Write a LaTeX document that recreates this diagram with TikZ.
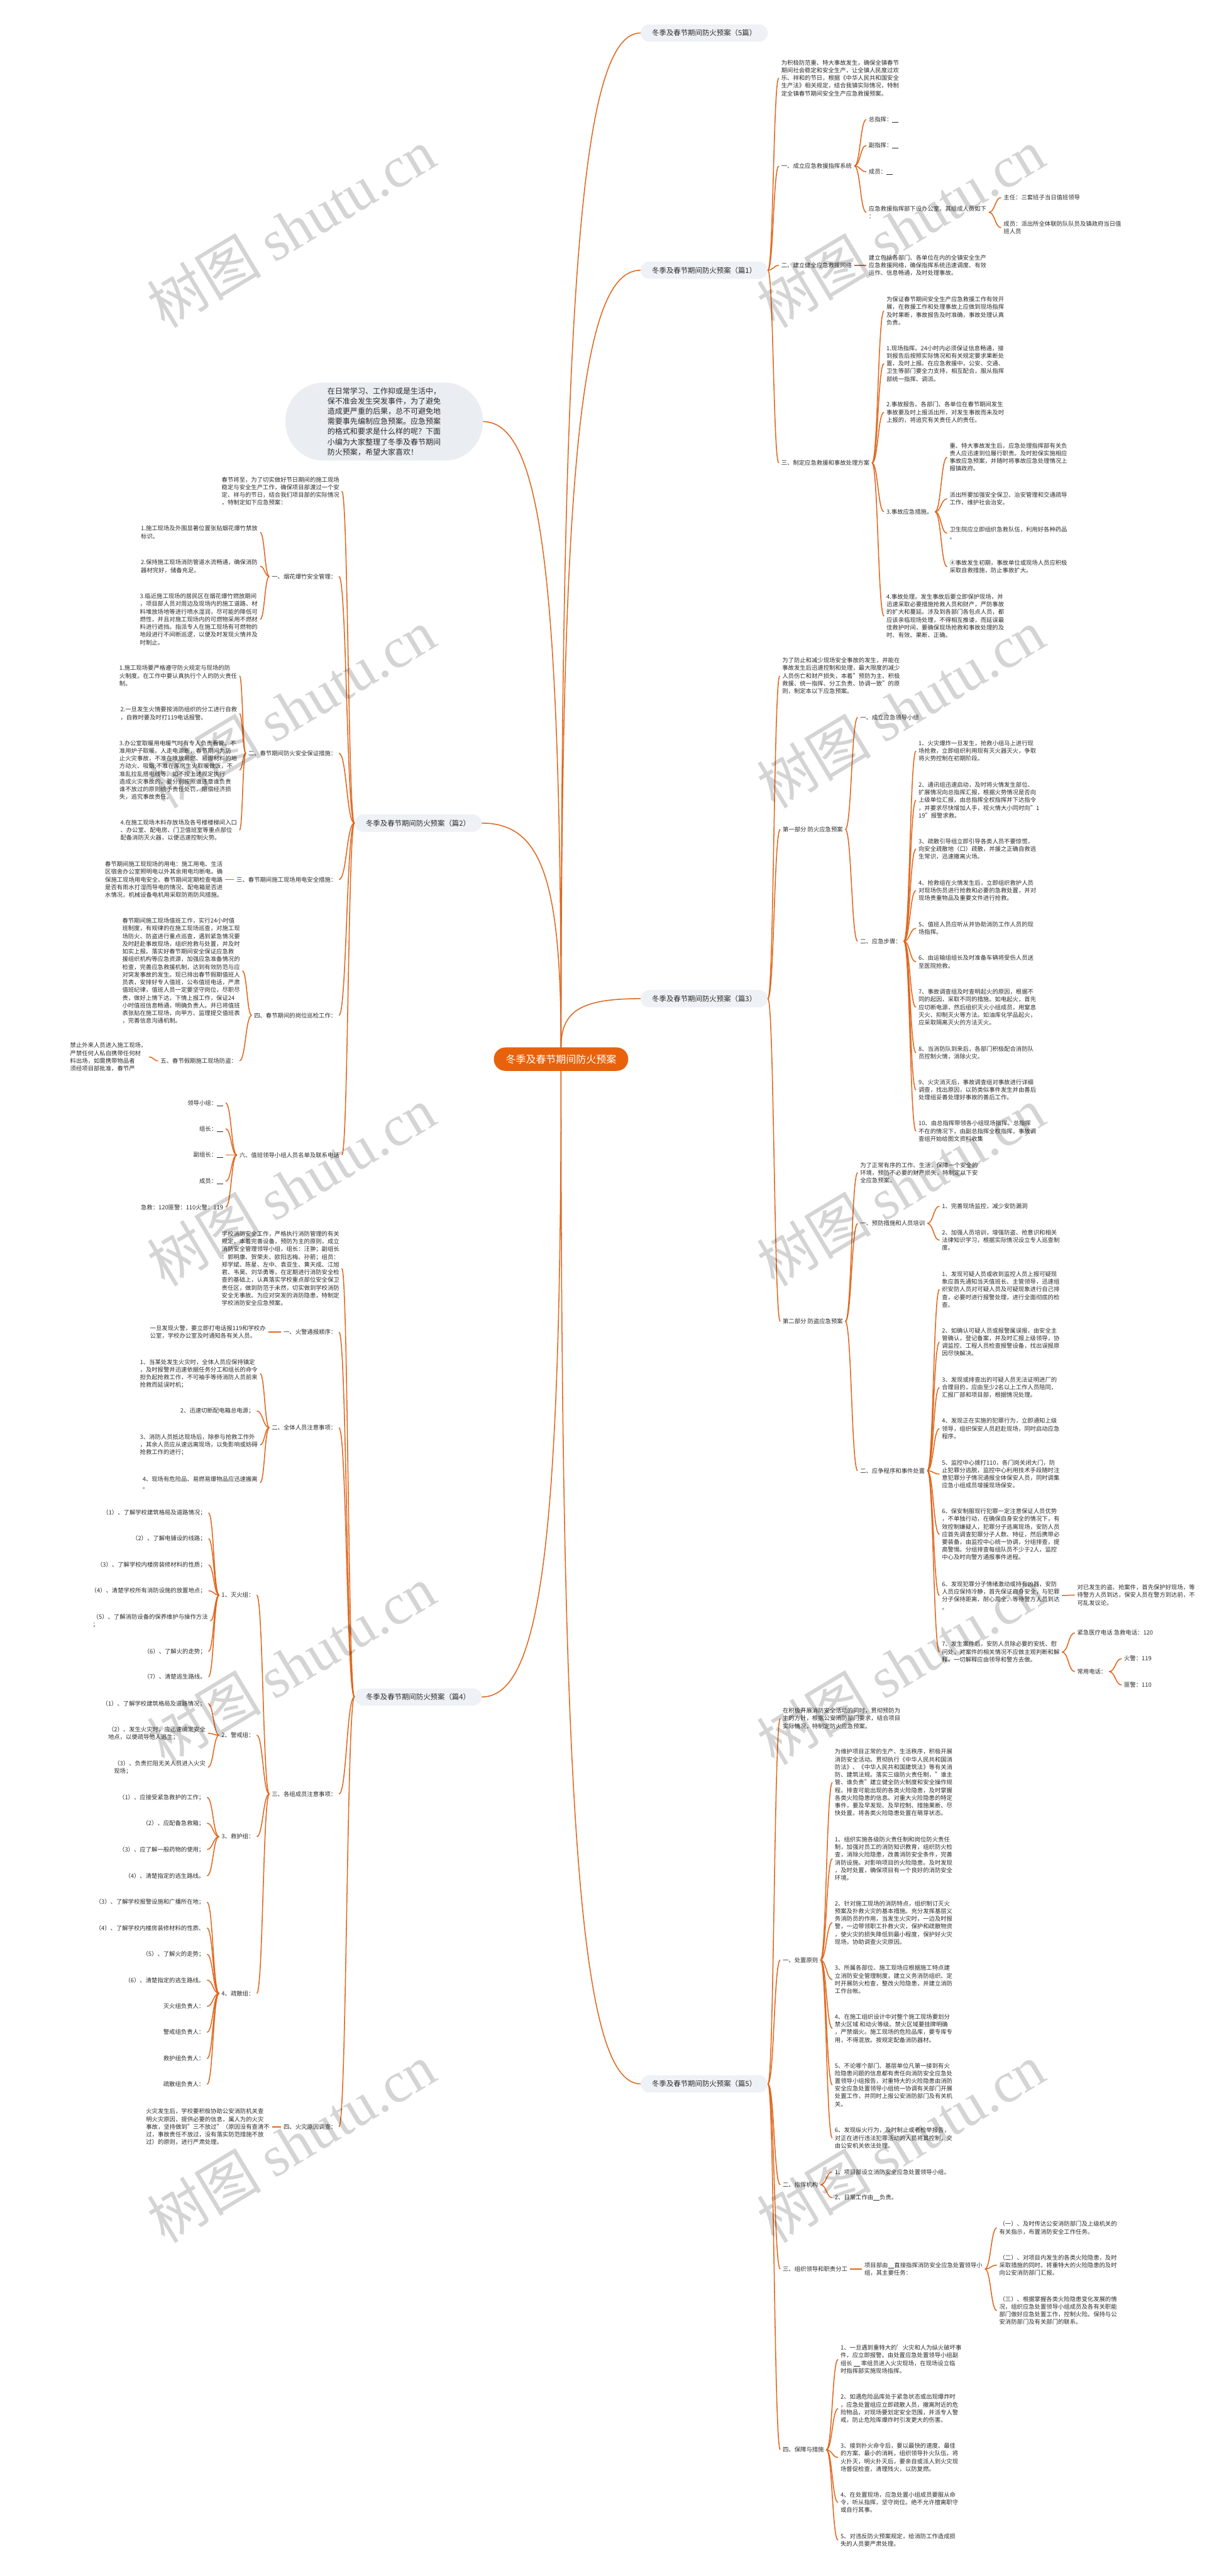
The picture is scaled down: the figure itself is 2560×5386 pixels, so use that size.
\documentclass[tikz,border=0pt]{standalone}
\usepackage{fontspec}
\setmainfont{Noto Sans CJK SC}
\newfontfamily\wmserif{Liberation Serif}
\usetikzlibrary{calc}
\definecolor{lc}{HTML}{E0661C}
\definecolor{oc}{HTML}{E8620C}
\definecolor{tf}{HTML}{EEF1F5}
\definecolor{bf}{HTML}{EAEEF2}
\definecolor{tc}{HTML}{2B2B2B}
\newcommand\ftx{\fontsize{12.3}{16.1}\selectfont}
\newcommand\ftp{\fontsize{15}{18}\selectfont}
\newcommand\frt{\fontsize{21}{25}\selectfont}
\newcommand\fbb{\fontsize{15.8}{21.2}\selectfont}
\newcommand\blk{\rule[-1.5pt]{13pt}{0.9pt}}
\newcommand\conR[2]{\draw[ln] let \p1=(#1.east), \p2=(#2.west) in (\p1) .. controls ({(\x1+\x2)/2},\y1) and ({(\x1+\x2)/2},\y2) .. (\p2);}
\newcommand\conL[2]{\draw[ln] let \p1=(#1.west), \p2=(#2.east) in (\p1) .. controls ({(\x1+\x2)/2},\y1) and ({(\x1+\x2)/2},\y2) .. (\p2);}
\newcommand\conT[2]{\draw[ln] let \p1=(#1), \p2=(#2) in (\p1) .. controls (\x1,{0.75*(\y2)+0.25*(\y1)}) and ({0.75*(\x1)+0.25*(\x2)},\y2) .. (\p2);}
\tikzset{
 ln/.style={draw=lc, line width=2pt},
 tx/.style={font=\ftx, align=left, inner xsep=5pt, inner ysep=1pt, text=tc},
 rt/.style={tx, anchor=west},
 lt/.style={tx, anchor=east},
 topic/.style={fill=tf, rounded corners=18pt, minimum height=36pt, minimum width=266pt, inner sep=0pt, font=\ftp, text=tc},
 rootn/.style={fill=oc, rounded corners=24pt, minimum height=49pt, minimum width=281pt, inner sep=0pt, font=\frt, text=white},
 bubble/.style={fill=bf, rounded corners=80pt, minimum width=413pt, minimum height=163pt, inner sep=0pt, font=\fbb, align=left, text=tc},
 wm/.style={rotate=31, anchor=base west, inner sep=0pt, text=black, opacity=0.17, font=\fontsize{120}{120}\selectfont}
}
\begin{document}
\begin{tikzpicture}[x=1pt,y=-1pt]
\useasboundingbox (0,0) rectangle (2560,5386);
\fill[white] (0,0) rectangle (2560,5386);

% ---------- main nodes ----------
\node[rootn] (root) at (1173.5,2214.5) {冬季及春节期间防火预案};
\node[bubble] (bub) at (803.5,881.5) {在日常学习、工作抑或是生活中，\\保不准会发生突发事件，为了避免\\造成更严重的后果，总不可避免地\\需要事先编制应急预案。应急预案\\的格式和要求是什么样的呢？下面\\小编为大家整理了冬季及春节期间\\防火预案，希望大家喜欢！};
\node[topic] (t0) at (1473,69) {冬季及春节期间防火预案（5篇）};
\node[topic] (t1) at (1473,565) {冬季及春节期间防火预案（篇1）};
\node[topic] (t2) at (874.5,1721) {冬季及春节期间防火预案（篇2）};
\node[topic] (t3) at (1473,2088) {冬季及春节期间防火预案（篇3）};
\node[topic] (t4) at (874.5,3548) {冬季及春节期间防火预案（篇4）};
\node[topic] (t5) at (1473,4357) {冬季及春节期间防火预案（篇5）};

\conT{root.north}{t0.west}
\conT{root.north}{t1.west}
\conT{root.north}{t3.west}
\conT{root.north}{bub.east}
\conT{root.north}{t2.east}
\conT{root.south}{t4.east}
\conT{root.south}{t5.west}

% ---------- 篇1 ----------
\node[rt] (a0) at (1629,163) {为积极防范重、特大事故发生，确保全镇春节\\期间社会稳定和安全生产，让全镇人民度过欢\\乐、祥和的节日，根据《中华人民共和国安全\\生产法》相关规定，结合我镇实际情况，特制\\定全镇春节期间安全生产应急救援预案。};
\node[rt] (a1) at (1629,347) {一、成立应急救援指挥系统};
\node[rt] (a11) at (1812,250) {总指挥：\blk};
\node[rt] (a12) at (1812,304) {副指挥：\blk};
\node[rt] (a13) at (1812,359) {成员：\blk};
\node[rt] (a14) at (1812,444) {应急救援指挥部下设办公室，其组成人员如下\\：};
\node[rt] (a141) at (2094,413) {主任：三套班子当日值班领导};
\node[rt] (a142) at (2094,476) {成员：派出所全体联防队队员及镇政府当日值\\班人员};
\node[rt] (a2) at (1629,555) {二、建立健全应急救援网络};
\node[rt] (a21) at (1812,555) {建立包括各部门、各单位在内的全镇安全生产\\应急救援网络，确保指挥系统迅速调度、有效\\运作、信息畅通，及时处理事故。};
\node[rt] (a3) at (1629,968) {三、制定应急救援和事故处理方案};
\node[rt] (a31) at (1849,650) {为保证春节期间安全生产应急救援工作有效开\\展，在救援工作和处理事故上应做到现场指挥\\及时果断，事故报告及时准确，事故处理认真\\负责。};
\node[rt] (a32) at (1849,760) {1.现场指挥。24小时内必须保证信息畅通，接\\到报告后按照实际情况和有关规定要求果断处\\置，及时上报。在应急救援中，公安、交通、\\卫生等部门要全力支持，相互配合，服从指挥\\部统一指挥、调派。};
\node[rt] (a33) at (1849,862) {2.事故报告。各部门、各单位在春节期间发生\\事故要及时上报派出所，对发生事故而未及时\\上报的，将追究有关责任人的责任。};
\node[rt] (a34) at (1849,1070) {3.事故应急措施。};
\node[rt] (a341) at (1981,956) {重、特大事故发生后，应急处理指挥部有关负\\责人应迅速到位履行职责。及时担保实施相应\\事故应急预案，并随时将事故应急处理情况上\\报镇政府。};
\node[rt] (a342) at (1981,1043) {派出所要加强安全保卫、治安管理和交通疏导\\工作，维护社会治安。};
\node[rt] (a343) at (1981,1115) {卫生院应立即组织急救队伍，利用好各种药品\\。};
\node[rt] (a344) at (1981,1185) {④事故发生初期，事故单位或现场人员应积极\\采取自救措施，防止事故扩大。};
\node[rt] (a35) at (1849,1288) {4.事故处理。发生事故后要立即保护现场，并\\迅速采取必要措施抢救人员和财产，严防事故\\的扩大和蔓延。涉及到各部门各包点人员，都\\应该亲临现场处理，不得相互推诿，而延误最\\佳救护时间，要确保现场抢救和事故处理的及\\时、有效、果断、正确。};
\foreach \c in {a0,a1,a2,a3} {\conR{t1}{\c}}
\foreach \c in {a11,a12,a13,a14} {\conR{a1}{\c}}
\foreach \c in {a141,a142} {\conR{a14}{\c}}
\conR{a2}{a21}
\foreach \c in {a31,a32,a33,a34,a35} {\conR{a3}{\c}}
\foreach \c in {a341,a342,a343,a344} {\conR{a34}{\c}}

% ---------- 篇3 ----------
\node[rt] (b0) at (1631,1413) {为了防止和减少现场安全事故的发生，并能在\\事故发生后迅速控制和处理，最大限度的减少\\人员伤亡和财产损失，本着"预防为主、积极\\救援、统一指挥、分工负责、协调一致"的原\\则，制定本以下应急预案。};
\node[rt] (b1) at (1632,1734) {第一部分 防火应急预案};
\node[rt] (b11) at (1794,1500) {一、成立应急领导小组};
\node[rt] (b12) at (1794,1968) {二、应急步骤：};
\node[rt] (s1) at (1916,1570) {1、火灾爆炸一旦发生，抢救小组马上进行现\\场抢救，立即组织利用现有灭火器灭火，争取\\将火势控制在初期阶段。};
\node[rt] (s2) at (1916,1673) {2、通讯组迅速启动，及时将火情发生部位、\\扩展情况向总指挥汇报，根据火势情况是否向\\上级单位汇报，由总指挥全权指挥并下达指令\\，并要求尽快增加人手，视火情大小同时向"1\\19"报警求救。};
\node[rt] (s3) at (1916,1775) {3、疏散引导组立即引导各类人员不要惊慌，\\向安全疏散地（口）疏散，并援之正确自救逃\\生常识，迅速撤离火场。};
\node[rt] (s4) at (1916,1862) {4、抢救组在火情发生后，立即组织救护人员\\对现场伤员进行抢救和必要的急救处置，并对\\现场贵重物品及重要文件进行抢救。};
\node[rt] (s5) at (1916,1941) {5、值班人员应听从并协助消防工作人员的现\\场指挥。};
\node[rt] (s6) at (1916,2011) {6、由运输组组长及时准备车辆将受伤人员送\\至医院抢救。};
\node[rt] (s7) at (1916,2106) {7、事故调查组及时查明起火的原因，根据不\\同的起因，采取不同的措施。如电起火，首先\\应切断电源，然后组织灭火小组成员，用窒息\\灭火、抑制灭火等方法。如油库化学品起火，\\应采取隔离灭火的方法灭火。};
\node[rt] (s8) at (1916,2201) {8、当消防队到来后，各部门积极配合消防队\\员控制火情，消除火灾。};
\node[rt] (s9) at (1916,2279) {9、火灾消灭后，事故调查组对事故进行详细\\调查，找出原因，以防类似事件发生并由善后\\处理组妥善处理好事故的善后工作。};
\node[rt] (s10) at (1916,2365) {10、由总指挥带领各小组现场指挥。总指挥\\不在的情况下，由副总指挥全权指挥，事故调\\查组开始给图文资料收集};
\node[rt] (b2) at (1632,2763) {第二部分 防盗应急预案};
\node[rt] (b21) at (1794,2452) {为了正常有序的工作、生活，保障一个安全的\\环境，预防不必要的财产损失，特制定以下安\\全应急预案。};
\node[rt] (b22) at (1794,2558) {一、预防措施和人员培训};
\node[rt] (b221) at (1965,2522) {1、完善现场监控，减少安防漏洞};
\node[rt] (b222) at (1965,2593) {2、加强人员培训，增强防盗、抢意识和相关\\法律知识学习，根据实际情况设立专人巡查制\\度。};
\node[rt] (b23) at (1794,3075) {二、应争程序和事件处置};
\node[rt] (p1) at (1965,2696) {1、发现可疑人员或收到监控人员上报可疑现\\象应首先通知当天值班长、主管领导，迅速组\\织安防人员对可疑人员及可疑现象进行自己排\\查，必要时进行报警处理，进行全面彻底的检\\查。};
\node[rt] (p2) at (1965,2806) {2、如确认可疑人员或报警属误报，由安全主\\管确认，登记备案，并及时汇报上级领导，协\\调监控、工程人员检查报警设备，找出误报原\\因尽快解决。};
\node[rt] (p3) at (1965,2901) {3、发现或排查出的可疑人员无法证明进厂的\\合理目的，应由至少2名以上工作人员陪同，\\汇报厂部和项目部，根据情况处理。};
\node[rt] (p4) at (1965,2987) {4、发现正在实施的犯罪行为，立即通知上级\\领导，组织保安人员赶赴现场，同时启动应急\\程序。};
\node[rt] (p5) at (1965,3082) {5、监控中心拨打110，各门岗关闭大门，防\\止犯罪分逃脱，监控中心利用技术手段随时注\\意犯罪分子情况通报全体保安人员，同时调集\\应急小组成员增援现场保安。};
\node[rt] (p6) at (1965,3208) {6、保安制服现行犯罪一定注意保证人员优势\\，不单独行动，在确保自身安全的情况下，有\\效控制嫌疑人，犯罪分子逃离现场，安防人员\\应首先调查犯罪分子人数、特征，然后携带必\\要装备，由监控中心统一协调，分组排查，提\\高警惕。分组排查每组队员不少于2人，监控\\中心及时向警方通报事件进程。};
\node[rt] (p7) at (1965,3336) {6、发现犯罪分子情绪激动或持有凶器，安防\\人员应保持冷静，首先保证自身安全，与犯罪\\分子保持距离，耐心周全，等待警方人员到达\\。};
\node[rt] (p71) at (2248,3335) {对已发生的盗、抢案件，首先保护好现场，等\\待警方人员到达，保安人员在警方到达前，不\\可乱发议论。};
\node[rt] (p8) at (1965,3454) {7、发生案件后，安防人员除必要的安抚、慰\\问处，对案件的相关情况不应做主观判断和解\\释，一切解释应由领导和警方去做。};
\node[rt] (p81) at (2248,3414) {紧急医疗电话 急救电话：120};
\node[rt] (p82) at (2248,3495) {常用电话：};
\node[rt] (p821) at (2346,3468) {火警：119};
\node[rt] (p822) at (2346,3523) {匪警：110};
\foreach \c in {b0,b1,b2} {\conR{t3}{\c}}
\foreach \c in {b11,b12} {\conR{b1}{\c}}
\foreach \c in {s1,s2,s3,s4,s5,s6,s7,s8,s9,s10} {\conR{b12}{\c}}
\foreach \c in {b21,b22,b23} {\conR{b2}{\c}}
\foreach \c in {b221,b222} {\conR{b22}{\c}}
\foreach \c in {p1,p2,p3,p4,p5,p6,p7,p8} {\conR{b23}{\c}}
\conR{p7}{p71}
\foreach \c in {p81,p82} {\conR{p8}{\c}}
\foreach \c in {p821,p822} {\conR{p82}{\c}}

% ---------- 篇5 ----------
\node[rt] (c0) at (1632,3593) {在积极开展消防安全活动的同时，贯彻预防为\\主的方针，根据公安消防部门要求，结合项目\\实际情况，特制定防火应急预案。};
\node[rt] (c1) at (1632,4098) {一、处置原则};
\node[rt] (c11) at (1741,3727) {为维护项目正常的生产、生活秩序，积极开展\\消防安全活动。贯彻执行《中华人民共和国消\\防法》、《中华人民共和国建筑法》等有关消\\防、建筑法规。落实三级防火责任制，"谁主\\管、谁负责"建立健全防火制度和安全操作规\\程。排查可能出现的各类火险隐患，及时掌握\\各类火险隐患的信息。对重大火险隐患的特定\\事件，要及早发现、及早控制、措施果断、尽\\快处置。将各类火险隐患处置在萌芽状态。};
\node[rt] (c12) at (1741,3886) {1、组织实施各级防火责任制和岗位防火责任\\制，加强对员工的消防知识教育，组织防火检\\查，消除火险隐患，改善消防安全条件，完善\\消防设施。对影响项目的火险隐患。及时发现\\，及时处置，确保项目有一个良好的消防安全\\环境。};
\node[rt] (c13) at (1741,4020) {2、针对施工现场的消防特点，组织制订灭火\\预案及扑救火灾的基本措施。充分发挥基层义\\务消防员的作用，当发生火灾时，一边及时报\\警，一边带领职工扑救火灾，保护和疏散物资\\，使火灾的损失降低到最小程度，保护好火灾\\现场，协助调查火灾原因。};
\node[rt] (c14) at (1741,4139) {3、所属各部位、施工现场应根据施工特点建\\立消防安全管理制度，建立义务消防组织、定\\时开展防火检查，整改火险隐患，并建立消防\\工作台帐。};
\node[rt] (c15) at (1741,4241) {4、在施工组织设计中对整个施工现场要划分\\禁火区域 和动火等级。禁火区域要挂牌明确\\，严禁烟火。施工现场的危险品库，要专库专\\用，不得混放。按规定配备消防器材。};
\node[rt] (c16) at (1741,4359) {5、不论哪个部门、基层单位凡第一接到有火\\险隐患问题的信息都有责任向消防安全应急处\\置领导小组报告，对重特大的火险隐患由消防\\安全应急处置领导小组统一协调有关部门开展\\处置工作，并同时上报公安消防部门及有关机\\关。};
\node[rt] (c17) at (1741,4470) {6、发现纵火行为，及时制止或者检举报告，\\对正在进行违法犯罪活动的人员将其控制，交\\由公安机关依法处理。};
\node[rt] (c2) at (1632,4568) {二、指挥机构};
\node[rt] (c21) at (1741,4541) {1、项目部设立消防安全应急处置领导小组。};
\node[rt] (c22) at (1741,4595) {2、日常工作由\blk 负责。};
\node[rt] (c3) at (1632,4744) {三、组织领导和职责分工};
\node[rt] (c31) at (1803,4744) {项目部由\blk 直接指挥消防安全应急处置领导小\\组，其主要任务：};
\node[rt] (c311) at (2085,4658) {（一）、及时传达公安消防部门及上级机关的\\有关指示，布置消防安全工作任务。};
\node[rt] (c312) at (2085,4736) {（二）、对项目内发生的各类火险隐患，及时\\采取措施的同时。将重特大的火险隐患的及时\\向公安消防部门汇报。};
\node[rt] (c313) at (2085,4831) {（三）、根据掌握各类火险隐患变化发展的情\\况，组织应急处置领导小组成员及各有关职能\\部门做好应急处置工作，控制火险。保持与公\\安消防部门及有关部门的联系。};
\node[rt] (c4) at (1632,5122) {四、保障与措施};
\node[rt] (c41) at (1753,4933) {1、一旦遇到重特大的'火灾和人为纵火破坏事\\件，应立即报警。由处置应急处置领导小组副\\组长 \blk{} 率组员进入火灾现场，在现场设立临\\时指挥部实施现场指挥。};
\node[rt] (c42) at (1753,5036) {2、如遇危险品库处于紧急状态或出现爆炸时\\，应急处置组应立即疏散人员，撤离附近的危\\险物品，对现场要划定安全范围，并派专人警\\戒，防止危险库爆炸时引发更大的伤害。};
\node[rt] (c43) at (1753,5138) {3、接到扑火命令后，要以最快的速度、最佳\\的方案、最小的消耗，组织领导扑火队伍，将\\火扑灭，明火扑灭后，要亲自或派人到火灾现\\场督促检查，清理残火，以防复燃。};
\node[rt] (c44) at (1753,5232) {4、在处置现场，应急处置小组成员要服从命\\令，听从指挥，坚守岗位。绝不允许擅离职守\\或自行其事。};
\node[rt] (c45) at (1753,5311) {5、对违反防火预案规定，给消防工作造成损\\失的人员要严肃处理。};
\foreach \c in {c0,c1,c2,c3,c4} {\conR{t5}{\c}}
\foreach \c in {c11,c12,c13,c14,c15,c16,c17} {\conR{c1}{\c}}
\foreach \c in {c21,c22} {\conR{c2}{\c}}
\conR{c3}{c31}
\foreach \c in {c311,c312,c313} {\conR{c31}{\c}}
\foreach \c in {c41,c42,c43,c44,c45} {\conR{c4}{\c}}

% ---------- 篇2 (left) ----------
\node[lt] (d0) at (715,1027) {春节将至，为了切实做好节日期间的施工现场\\稳定与安全生产工作，确保项目部渡过一个安\\定、祥与的节日，结合我们项目部的实际情况\\，特制定如下应急预案：};
\node[lt] (d1) at (709,1205) {一、烟花爆竹安全管理：};
\node[lt] (d11) at (544,1113) {1.施工现场及外围显著位置张贴烟花爆竹禁放\\标识。};
\node[lt] (d12) at (544,1184) {2.保持施工现场消防管道水流畅通，确保消防\\器材完好，储备充足。};
\node[lt] (d13) at (544,1295) {3.临近施工现场的居民区在烟花爆竹燃放期间\\，项目部人员对周边及现场内的施工道路、材\\料堆放场地等进行喷水湿润，尽可能的降低可\\燃性，并且对施工现场内的可燃物采用不燃材\\料进行遮挡。指派专人在施工现场有可燃物的\\地段进行不间断巡逻，以便及时发现火情并及\\时制止。};
\node[lt] (d2) at (709,1575) {二、春节期间防火安全保证措施：};
\node[lt] (d21) at (501,1413) {1.施工现场要严格遵守防火规定与现场的防\\火制度。在工作中要认真执行个人的防火责任\\制。};
\node[lt] (d22) at (501,1492) {2.一旦发生火情要按消防组织的分工进行自救\\，自救时要及时打119电话报警。};
\node[lt] (d23) at (501,1610) {3.办公室取暖用电暖气时有专人负责看管。不\\准用炉子取暖。人走电源断，春节期间为防\\止火灾事故，不准在堆放易燃、易爆材料的地\\方动火、吸烟;不准在库房生火取暖做饭，不\\准乱拉乱搭电线等。如不按上述规定执行\\造成火灾事故的，要分别按照谁违章谁负责\\谁不放过的原则给予责任处罚，赔偿经济损\\失，追究事故责任。};
\node[lt] (d24) at (501,1736) {4.在施工现场木料存放场及各号楼楼梯间入口\\、办公室、配电房、门卫值班室等重点部位\\配备消防灭火器，以便迅速控制火势。};
\node[lt] (d3) at (709,1839) {三、春节期间施工现场用电安全措施：};
\node[lt] (d31) at (471,1839) {春节期间施工现现场的用电：施工用电、生活\\区宿舍办公室照明电以外其余用电均断电。确\\保施工现场用电安全。春节期间定期检查电路\\是否有雨水打湿而导电的情况、配电箱是否进\\水情况，机械设备电机用采取防雨防风措施。};
\node[lt] (d4) at (709,2123) {四、春节期间的岗位巡检工作：};
\node[lt] (d41) at (507,2030) {春节期间施工现场值班工作，实行24小时值\\班制度，有规律的在施工现场巡查，对施工现\\场防火、防盗进行重点巡查，遇到紧急情况要\\及时赶赴事故现场，组织抢救与处置，并及时\\如实上报。落实好春节期间安全保证应急救\\援组织机构等应急资源，加强应急准备情况的\\检查，完善应急救援机制，达到有效防范与应\\对突发事故的发生。现已排出春节假期值班人\\员表，安排好专人值班，公布值班电话，严肃\\值班纪律，值班人员一定要坚守岗位，尽职尽\\责，做好上情下达，下情上报工作，保证24\\小时值班信息畅通，明确负责人。并已将值班\\表张贴在施工现场，向甲方、监理提交值班表\\，完善信息沟通机制。};
\node[lt] (d42) at (501,2218) {五、春节假期施工现场防盗：};
\node[lt] (d421) at (312,2210) {禁止外来人员进入施工现场，\\严禁任何人私自携带任何材\\料出场，如需携带物品者\\须经项目部批准，春节严};
\node[lt] (d5) at (715,2415) {六、值班领导小组人员名单及联系电话};
\node[lt] (d51) at (472,2306) {领导小组：\blk};
\node[lt] (d52) at (472,2360) {组长：\blk};
\node[lt] (d53) at (472,2415) {副组长：\blk};
\node[lt] (d54) at (472,2470) {成员：\blk};
\node[lt] (d55) at (472,2524) {急救：120匪警：110火警：119};
\foreach \c in {d0,d1,d2,d3,d4,d5} {\conL{t2}{\c}}
\foreach \c in {d11,d12,d13} {\conL{d1}{\c}}
\foreach \c in {d21,d22,d23,d24} {\conL{d2}{\c}}
\conL{d3}{d31}
\foreach \c in {d41,d42} {\conL{d4}{\c}}
\conL{d42}{d421}
\foreach \c in {d51,d52,d53,d54,d55} {\conL{d5}{\c}}

% ---------- 篇4 (left) ----------
\node[lt] (e0) at (715,2652) {学校消防安全工作，严格执行消防管理的有关\\规定，本着完善设备，预防为主的原则，成立\\消防安全管理领导小组，组长：汪翀；副组长\\：郭明康、贺荣夫、欧阳志梅、孙箭；组员：\\郑学斌、陈星、左中、袁亚生、黄天成、江旭\\君、韦昊、刘华勇等，在定期进行消防安全检\\查的基础上，认真落实学校重点部位安全保卫\\责任区，做到防范于未然，切实做到学校消防\\安全无事故。为应对突发的消防隐患，特制定\\学校消防安全应急预案。};
\node[lt] (e1) at (709,2785) {一、火警通报顺序：};
\node[lt] (e11) at (561,2785) {一旦发现火警，要立即打电话报119和学校办\\公室，学校办公室及时通知各有关人员。};
\node[lt] (e2) at (709,2985) {二、全体人员注意事项：};
\node[lt] (e21) at (544,2872) {1、当某处发生火灾时，全体人员应保持镇定\\，及时报警并迅速依据任务分工和组长的命令\\担负起抢救工作，不可袖手等待消防人员前来\\抢救而延误时机；};
\node[lt] (e22) at (537,2950) {2、迅速切断配电箱总电源；};
\node[lt] (e23) at (544,3021) {3、消防人员抵达现场后，除参与抢救工作外\\，其余人员应从速远离现场，以免影响或妨碍\\抢救工作的进行；};
\node[lt] (e24) at (544,3100) {4、现场有危险品、易燃易爆物品应迅速搬离\\。};
\node[lt] (e3) at (709,3751) {三、各组成员注意事项：};
\node[lt] (e31) at (537,3335) {1、灭火组：};
\node[lt] (f1) at (436,3163) {（1）、了解学校建筑格局及道路情况；};
\node[lt] (f2) at (436,3217) {（2）、了解电铺设的线路；};
\node[lt] (f3) at (436,3272) {（3）、了解学校内楼房装修材料的性质；};
\node[lt] (f4) at (436,3326) {（4）、清楚学校所有消防设施的放置地点；};
\node[lt] (f5) at (440,3389) {（5）、了解消防设备的保养维护与操作方法\\；};
\node[lt] (f6) at (436,3453) {（6）、了解火的走势；};
\node[lt] (f7) at (436,3506) {（7）、清楚逃生路线。};
\node[lt] (e32) at (537,3628) {2、警戒组：};
\node[lt] (g1) at (435,3562) {（1）、了解学校建筑格局及道路情况；};
\node[lt] (g2) at (435,3624) {（2）、发生火灾时，应迅速确定安全\\地点，以便疏导他人逃生；};
\node[lt] (g3) at (435,3695) {（3）、负责拦阻无关人员进入火灾\\现场；};
\node[lt] (e33) at (537,3840) {3、救护组：};
\node[lt] (h1) at (433,3758) {（1）、应接受紧急救护的工作；};
\node[lt] (h2) at (433,3812) {（2）、应配备急救箱；};
\node[lt] (h3) at (433,3867) {（3）、应了解一般药物的使用；};
\node[lt] (h4) at (433,3922) {（4）、清楚指定的逃生路线。};
\node[lt] (e34) at (537,4168) {4、疏散组：};
\node[lt] (k1) at (433,3977) {（3）、了解学校报警设施和广播所在地；};
\node[lt] (k2) at (433,4031) {（4）、了解学校内楼房装修材料的性质、};
\node[lt] (k3) at (433,4086) {（5）、了解火的走势；};
\node[lt] (k4) at (433,4140) {（6）、清楚指定的逃生路线。};
\node[lt] (k5) at (433,4195) {灭火组负责人：};
\node[lt] (k6) at (433,4249) {警戒组负责人：};
\node[lt] (k7) at (433,4304) {救护组负责人：};
\node[lt] (k8) at (433,4358) {疏散组负责人：};
\node[lt] (e4) at (709,4447) {四、火灾原因调查：};
\node[lt] (e41) at (569,4447) {火灾发生后，学校要积极协助公安消防机关查\\明火灾原因，提供必要的信息，属人为的火灾\\事故，坚持做到"三不放过"（原因没有查清不\\过，事故责任不放过，没有落实防范措施不放\\过）的原则，进行严肃处理。};
\foreach \c in {e0,e1,e2,e3,e4} {\conL{t4}{\c}}
\conL{e1}{e11}
\foreach \c in {e21,e22,e23,e24} {\conL{e2}{\c}}
\foreach \c in {e31,e32,e33,e34} {\conL{e3}{\c}}
\foreach \c in {f1,f2,f3,f4,f5,f6,f7} {\conL{e31}{\c}}
\foreach \c in {g1,g2,g3} {\conL{e32}{\c}}
\foreach \c in {h1,h2,h3,h4} {\conL{e33}{\c}}
\foreach \c in {k1,k2,k3,k4,k5,k6,k7,k8} {\conL{e34}{\c}}
\conL{e4}{e41}

% ---------- watermark ----------
\foreach \yy in {700,1705,2705,3705,4705} {
  \node[wm] (wmL\yy) at (345,\yy-12) {树图 {\wmserif shutu.cn}};
  \node[wm] (wmR\yy) at (1620,\yy-12) {树图 {\wmserif shutu.cn}};
}
\end{tikzpicture}
\end{document}
